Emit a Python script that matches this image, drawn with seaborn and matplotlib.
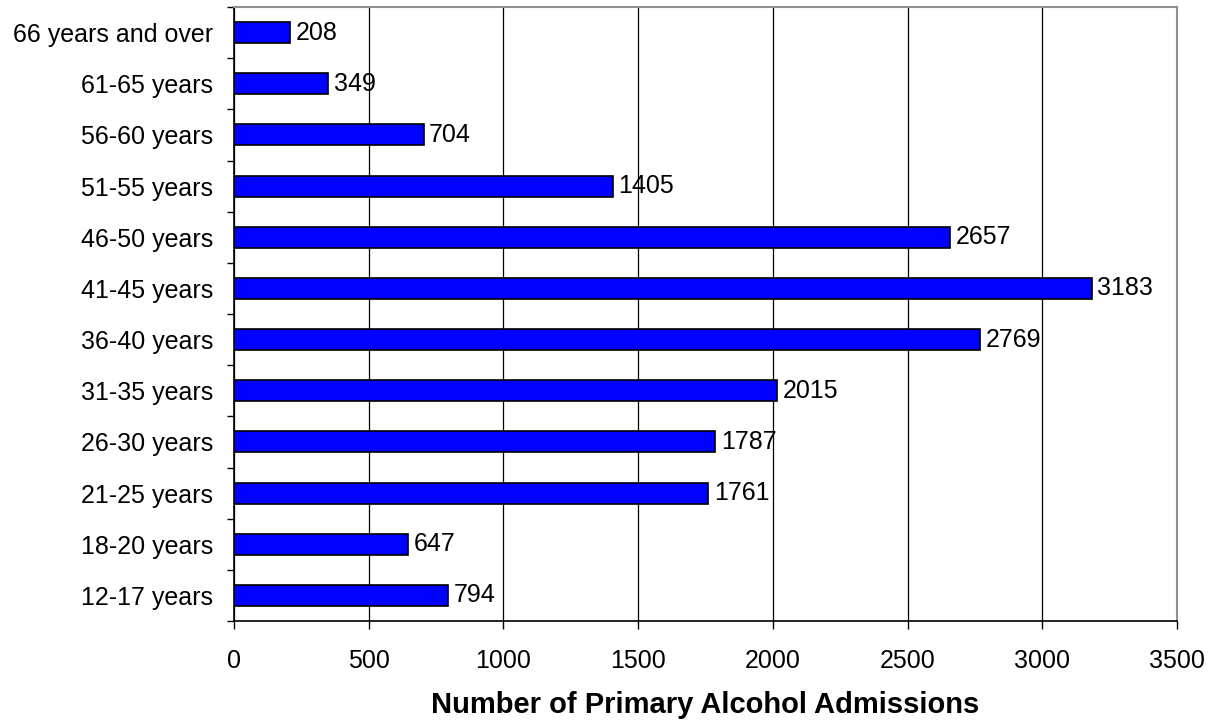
import matplotlib
matplotlib.use('Agg')
import matplotlib.pyplot as plt
import seaborn as sns
import pandas as pd

age_groups = ['66 years and over', '61-65 years', '56-60 years', '51-55 years',
              '46-50 years', '41-45 years', '36-40 years', '31-35 years',
              '26-30 years', '21-25 years', '18-20 years', '12-17 years']
admissions = [208, 349, 704, 1405, 2657, 3183, 2769, 2015, 1787, 1761, 647, 794]
x_ticks = [0, 500, 1000, 1500, 2000, 2500, 3000, 3500]

df = pd.DataFrame({'age': age_groups, 'n': admissions})

sns.set_style('white')
plt.rcParams['font.family'] = ['Liberation Sans', 'DejaVu Sans']
plt.rcParams['text.color'] = 'black'
plt.rcParams['xtick.color'] = 'black'
plt.rcParams['ytick.color'] = 'black'
plt.rcParams['axes.labelcolor'] = 'black'

fs = 18

fig = plt.figure(figsize=(12.16, 7.23), dpi=100)
ax = fig.add_axes([234 / 1216, 1 - 621 / 723, (1177 - 234) / 1216, (621 - 7) / 723])

sns.barplot(data=df, x='n', y='age', order=age_groups, orient='h',
            color='#0000ff', saturation=1, width=0.41,
            edgecolor='black', linewidth=1.2, ax=ax, zorder=3)
ax.bar_label(ax.containers[0], labels=[str(v) for v in admissions],
             padding=4, fontsize=fs, color='black', zorder=4)

ax.set_xlim(0, 3500)
ax.set_ylim(11.5, -0.5)
ax.set_xticks(x_ticks)
ax.set_xticklabels([str(t) for t in x_ticks], fontsize=fs)
ax.xaxis.grid(True, color='black', linewidth=0.9, zorder=0)
ax.set_axisbelow(True)

# category ticks sit between the bars
ax.set_yticks(range(len(age_groups)))
ax.set_yticklabels(age_groups, fontsize=fs)
ax.set_yticks([i - 0.5 for i in range(len(age_groups) + 1)], minor=True)
ax.tick_params(axis='y', which='major', left=False, length=0, pad=15)
ax.tick_params(axis='y', which='minor', left=True, length=5, width=1,
               color='black', direction='out')
ax.tick_params(axis='x', bottom=True, length=6, width=1, color='black',
               direction='out', pad=14)

for s in ['top', 'right']:
    ax.spines[s].set_color('#909090')
    ax.spines[s].set_linewidth(1.5)
for s in ['left', 'bottom']:
    ax.spines[s].set_color('black')
    ax.spines[s].set_linewidth(1.2)

ax.set_ylabel('')
ax.set_xlabel('Number of Primary Alcohol Admissions', fontsize=21,
              fontweight='bold', labelpad=13)

fig.savefig('out.png', dpi=100)
